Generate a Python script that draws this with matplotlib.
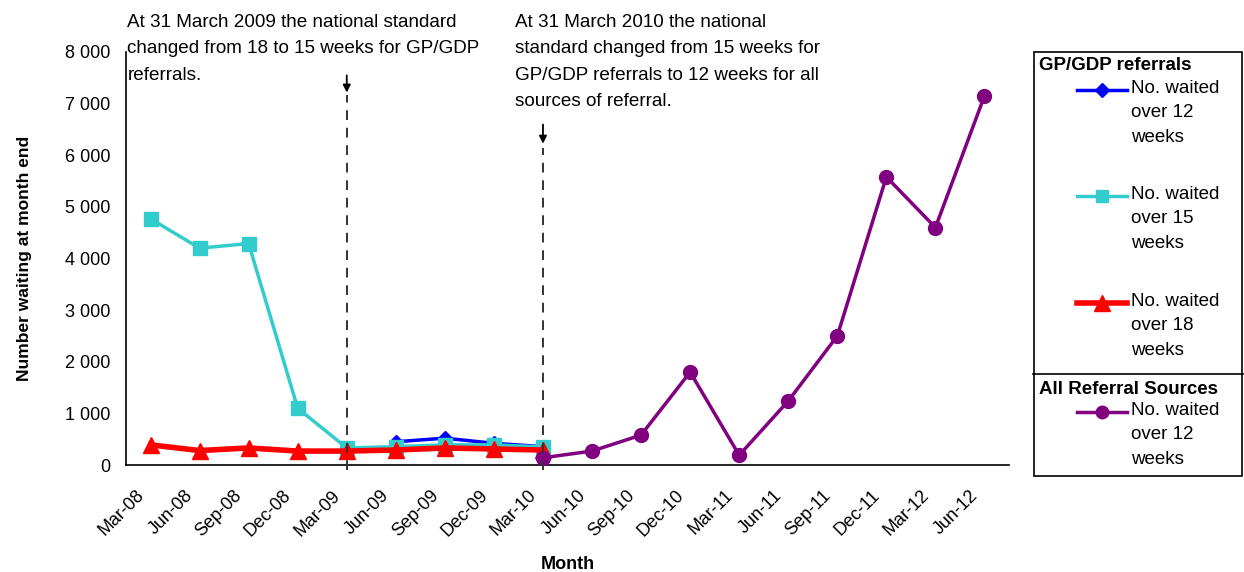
import matplotlib
matplotlib.use("Agg")
import matplotlib.pyplot as plt
from matplotlib.patches import Rectangle
import matplotlib.transforms as mtransforms
import numpy as np

plt.rcParams['font.family'] = ['Liberation Sans', 'DejaVu Sans']

months = ["Mar-08", "Jun-08", "Sep-08", "Dec-08", "Mar-09", "Jun-09", "Sep-09",
          "Dec-09", "Mar-10", "Jun-10", "Sep-10", "Dec-10", "Mar-11", "Jun-11",
          "Sep-11", "Dec-11", "Mar-12", "Jun-12"]

# GP/GDP referrals
gp_over12 = [None, None, None, None, None, 450, 520, 420, 355] + [None] * 9
gp_over15 = [4770, 4200, 4290, 1100, 330, 355, 390, 390, 350] + [None] * 9
gp_over18 = [390, 280, 330, 270, 270, 290, 330, 310, 290] + [None] * 9
# All referral sources
all_over12 = [None] * 8 + [140, 270, 580, 1800, 190, 1240, 2500, 5580, 4600, 7150]

yticks = [0, 1000, 2000, 3000, 4000, 5000, 6000, 7000, 8000]
ytick_labels = ["0", "1 000", "2 000", "3 000", "4 000", "5 000", "6 000", "7 000", "8 000"]

note1 = "At 31 March 2009 the national standard\nchanged from 18 to 15 weeks for GP/GDP\nreferrals."
note2 = "At 31 March 2010 the national\nstandard changed from 15 weeks for\nGP/GDP referrals to 12 weeks for all\nsources of referral."
change_idx = [4, 8]

W, H = 1244, 572
fig = plt.figure(figsize=(W / 100, H / 100), dpi=100)
ax = fig.add_axes([126 / W, (H - 465) / H, 883 / W, 413 / H])

x = np.arange(len(months))

def arr(v):
    return np.array([np.nan if a is None else a for a in v], dtype=float)

c_blue, c_cyan, c_red, c_purple = "#0000FF", "#33CCCC", "#FF0000", "#800080"

ax.plot(x, arr(gp_over12), color=c_blue, lw=2.5, marker="D", ms=7, zorder=3)
ax.plot(x, arr(gp_over15), color=c_cyan, lw=2.5, marker="s", ms=10, zorder=4)
ax.plot(x, arr(gp_over18), color=c_red, lw=4, marker="^", ms=12, zorder=5)
ax.plot(x, arr(all_over12), color=c_purple, lw=2.5, marker="o", ms=10, zorder=6)

ax.set_xlim(-0.5, len(months) - 0.5)
ax.set_ylim(0, 8000)
ax.set_yticks(yticks)
ax.set_yticklabels(ytick_labels, fontsize=13)
ax.set_xticks(x)
ax.set_xticklabels(months, rotation=45, ha="right", va="top", rotation_mode="anchor",
                   fontsize=13)
ax.tick_params(axis="both", length=0)
ax.tick_params(axis="y", pad=11.5)
ax.tick_params(axis="x", pad=0)
offset = mtransforms.ScaledTranslation(-0.15, -0.22, fig.dpi_scale_trans)
for lab in ax.get_xticklabels():
    lab.set_transform(lab.get_transform() + offset)
for s in ["top", "right"]:
    ax.spines[s].set_visible(False)
for s in ["left", "bottom"]:
    ax.spines[s].set_linewidth(1.2)

ax.set_ylabel("Number waiting at month end", fontsize=12.5, fontweight="bold")
ax.yaxis.set_label_coords(-94 / 883, 0.5)
ax.set_xlabel("Month", fontsize=13, fontweight="bold")
ax.xaxis.set_label_coords(0.5, -91 / 413)

# Vertical dashed lines and arrows
tops = [7170, 6140]
for xi, top in zip(change_idx, tops):
    ax.plot([xi, xi], [-100, top], color="#333333", lw=1.4, ls=(0, (5, 4)),
            clip_on=False, zorder=7)
ax.annotate("", xy=(4, 7160), xytext=(4, 7600),
            arrowprops=dict(arrowstyle="-|>", color="black", lw=1.3, mutation_scale=11),
            annotation_clip=False)
ax.annotate("", xy=(8, 6170), xytext=(8, 6650),
            arrowprops=dict(arrowstyle="-|>", color="black", lw=1.3, mutation_scale=11),
            annotation_clip=False)

ax.text(-0.47, 8730, note1, fontsize=13.6, va="top", ha="left", linespacing=1.7,
        clip_on=False)
ax.text(7.42, 8730, note2, fontsize=13.6, va="top", ha="left", linespacing=1.7,
        clip_on=False)

# Legend (manual, pixel coordinates)
lx0, ly0, lx1, ly1 = 1033, 51, 1243, 477
lax = fig.add_axes([lx0 / W, (H - ly1) / H, (lx1 - lx0) / W, (ly1 - ly0) / H])
lax.set_xlim(lx0, lx1)
lax.set_ylim(ly1, ly0)
lax.axis("off")
lax.add_patch(Rectangle((lx0 + 0.5, ly0 + 0.5), lx1 - lx0 - 1.5, ly1 - ly0 - 1.5,
                        fill=False, ec="black", lw=1.2, clip_on=False))
lax.plot([lx0, lx1], [374, 374], color="black", lw=1.2, clip_on=False)
lax.text(1039, 66, "GP/GDP referrals", fontsize=13.5, fontweight="bold", va="center")
lax.text(1039, 390, "All Referral Sources", fontsize=13.5, fontweight="bold", va="center")

entries = [(90, c_blue, "D", 7, 2.5), (196, c_cyan, "s", 9, 2.5),
           (303, c_red, "^", 11, 4), (412, c_purple, "o", 9, 2.5)]
labels = ["No. waited\nover 12\nweeks", "No. waited\nover 15\nweeks",
          "No. waited\nover 18\nweeks", "No. waited\nover 12\nweeks"]
for (yy, col, mk, ms, lw), lab in zip(entries, labels):
    lax.plot([1077, 1127], [yy, yy], color=col, lw=lw, clip_on=False)
    lax.plot([1102], [yy], color=col, marker=mk, ms=ms, clip_on=False)
    lax.text(1131, yy - 10, lab, fontsize=13.5, va="top", ha="left", linespacing=1.57)

fig.savefig("out.png", dpi=100)
